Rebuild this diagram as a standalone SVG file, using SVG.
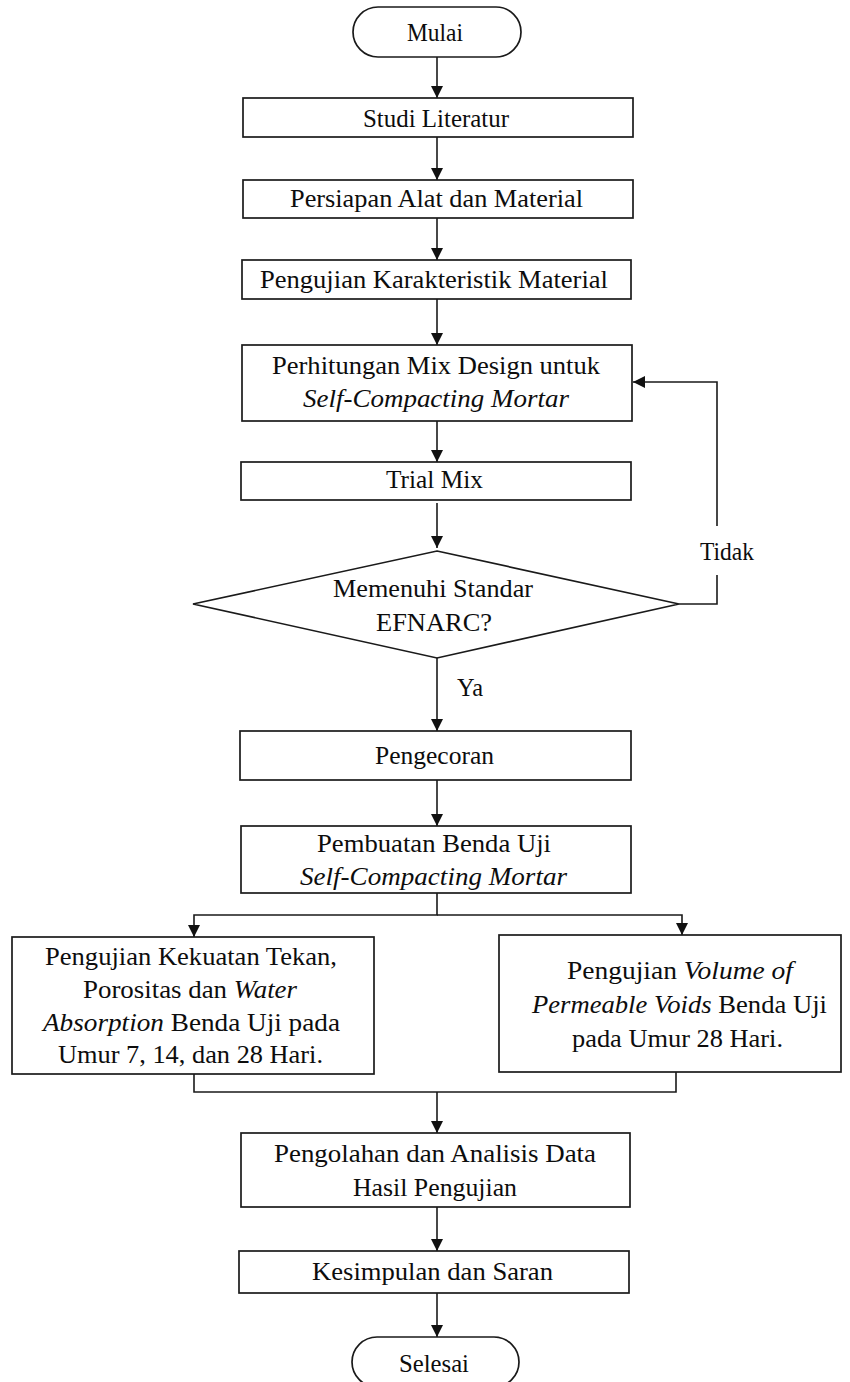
<svg xmlns="http://www.w3.org/2000/svg" width="850" height="1382" viewBox="0 0 850 1382">
<style>
.box{fill:#fff;stroke:#1a1a1a;stroke-width:1.7}
.ln{fill:none;stroke:#1a1a1a;stroke-width:1.6}
.t{font-family:"Liberation Serif","Times New Roman",serif;font-size:25px;fill:#0d0d0d;text-anchor:middle}
.s{text-anchor:start}
.i{font-style:italic}
</style>
<defs>
<marker id="ah" viewBox="0 0 12 12" refX="12" refY="6" markerWidth="12" markerHeight="12" markerUnits="userSpaceOnUse" orient="auto">
<path d="M0,0 L12,6 L0,12 z" fill="#111"/>
</marker>
</defs>
<rect width="850" height="1382" fill="#fff"/>
<g id="connectors">
<path class="ln" d="M437,57 V98" marker-end="url(#ah)"/>
<path class="ln" d="M437,137 V180" marker-end="url(#ah)"/>
<path class="ln" d="M437,218 V260" marker-end="url(#ah)"/>
<path class="ln" d="M437,299 V345" marker-end="url(#ah)"/>
<path class="ln" d="M437,421 V462" marker-end="url(#ah)"/>
<path class="ln" d="M437,503 V548" marker-end="url(#ah)"/>
<path class="ln" d="M437,658 V731" marker-end="url(#ah)"/>
<path class="ln" d="M437,780 V826" marker-end="url(#ah)"/>
<path class="ln" d="M437,893 V915 H194 V937" marker-end="url(#ah)"/>
<path class="ln" d="M437,915 H682 V935" marker-end="url(#ah)"/>
<path class="ln" d="M194,1074 V1092 H676 V1072"/>
<path class="ln" d="M437,1092 V1133" marker-end="url(#ah)"/>
<path class="ln" d="M437,1207 V1251" marker-end="url(#ah)"/>
<path class="ln" d="M437,1293 V1337" marker-end="url(#ah)"/>
<path class="ln" d="M679,604 H717 V575"/>
<path class="ln" d="M717,526 V382 H633" marker-end="url(#ah)"/>
<text class="t s" x="457" y="696" textLength="26" lengthAdjust="spacingAndGlyphs">Ya</text>
<text class="t s" x="700" y="560" textLength="54" lengthAdjust="spacingAndGlyphs">Tidak</text>
</g>
<g id="mulai">
<rect class="box" x="353" y="7" width="168" height="50" rx="25"/>
<text class="t" x="435" y="41" textLength="56" lengthAdjust="spacingAndGlyphs">Mulai</text>
</g>
<g id="studi">
<rect class="box" x="243" y="98" width="390" height="39"/>
<text class="t" x="436" y="127" textLength="146" lengthAdjust="spacingAndGlyphs">Studi Literatur</text>
</g>
<g id="persiapan">
<rect class="box" x="243" y="180" width="390" height="38"/>
<text class="t" x="436.5" y="207" textLength="293" lengthAdjust="spacingAndGlyphs">Persiapan Alat dan Material</text>
</g>
<g id="karakteristik">
<rect class="box" x="242" y="260" width="389" height="39"/>
<text class="t" x="434" y="288" textLength="348" lengthAdjust="spacingAndGlyphs">Pengujian Karakteristik Material</text>
</g>
<g id="perhitungan">
<rect class="box" x="242" y="345" width="390" height="76"/>
<text class="t" x="436" y="374" textLength="328" lengthAdjust="spacingAndGlyphs">Perhitungan Mix Design untuk</text>
<text class="t i" x="436" y="407" textLength="266" lengthAdjust="spacingAndGlyphs">Self-Compacting Mortar</text>
</g>
<g id="trialmix">
<rect class="box" x="241" y="462" width="390" height="38"/>
<text class="t" x="434.5" y="488" textLength="97" lengthAdjust="spacingAndGlyphs">Trial Mix</text>
</g>
<g id="keputusan">
<polygon class="box" points="437,551 679,604 437,658 193,604"/>
<text class="t" x="433" y="597" textLength="200" lengthAdjust="spacingAndGlyphs">Memenuhi Standar</text>
<text class="t" x="434" y="631" textLength="116" lengthAdjust="spacingAndGlyphs">EFNARC?</text>
</g>
<g id="pengecoran">
<rect class="box" x="240" y="731" width="391" height="49"/>
<text class="t" x="434.5" y="764" textLength="119" lengthAdjust="spacingAndGlyphs">Pengecoran</text>
</g>
<g id="pembuatan">
<rect class="box" x="241" y="826" width="390" height="67"/>
<text class="t" x="434" y="852" textLength="234" lengthAdjust="spacingAndGlyphs">Pembuatan Benda Uji</text>
<text class="t i" x="433.5" y="885" textLength="267" lengthAdjust="spacingAndGlyphs">Self-Compacting Mortar</text>
</g>
<g id="uji-kiri">
<rect class="box" x="12" y="937" width="362" height="137"/>
<text class="t" x="191" y="965" textLength="292" lengthAdjust="spacingAndGlyphs">Pengujian Kekuatan Tekan,</text>
<text class="t" x="190" y="998" textLength="214" lengthAdjust="spacingAndGlyphs">Porositas dan <tspan class="i">Water</tspan></text>
<text class="t" x="191.5" y="1031" textLength="297" lengthAdjust="spacingAndGlyphs"><tspan class="i">Absorption</tspan> Benda Uji pada</text>
<text class="t" x="190.5" y="1063" textLength="265" lengthAdjust="spacingAndGlyphs">Umur 7, 14, dan 28 Hari.</text>
</g>
<g id="uji-kanan">
<rect class="box" x="499" y="935" width="342" height="137"/>
<text class="t" x="680" y="979" textLength="226" lengthAdjust="spacingAndGlyphs">Pengujian <tspan class="i">Volume of</tspan></text>
<text class="t" x="679.5" y="1013" textLength="295" lengthAdjust="spacingAndGlyphs"><tspan class="i">Permeable Voids</tspan> Benda Uji</text>
<text class="t" x="677.5" y="1047" textLength="211" lengthAdjust="spacingAndGlyphs">pada Umur 28 Hari.</text>
</g>
<g id="pengolahan">
<rect class="box" x="241" y="1133" width="389" height="74"/>
<text class="t" x="435" y="1162" textLength="322" lengthAdjust="spacingAndGlyphs">Pengolahan dan Analisis Data</text>
<text class="t" x="435" y="1196" textLength="164" lengthAdjust="spacingAndGlyphs">Hasil Pengujian</text>
</g>
<g id="kesimpulan">
<rect class="box" x="239" y="1251" width="390" height="42"/>
<text class="t" x="432.5" y="1280" textLength="241" lengthAdjust="spacingAndGlyphs">Kesimpulan dan Saran</text>
</g>
<g id="selesai">
<rect class="box" x="352" y="1337" width="167" height="50" rx="25"/>
<text class="t" x="434" y="1372" textLength="70" lengthAdjust="spacingAndGlyphs">Selesai</text>
</g>
</svg>
